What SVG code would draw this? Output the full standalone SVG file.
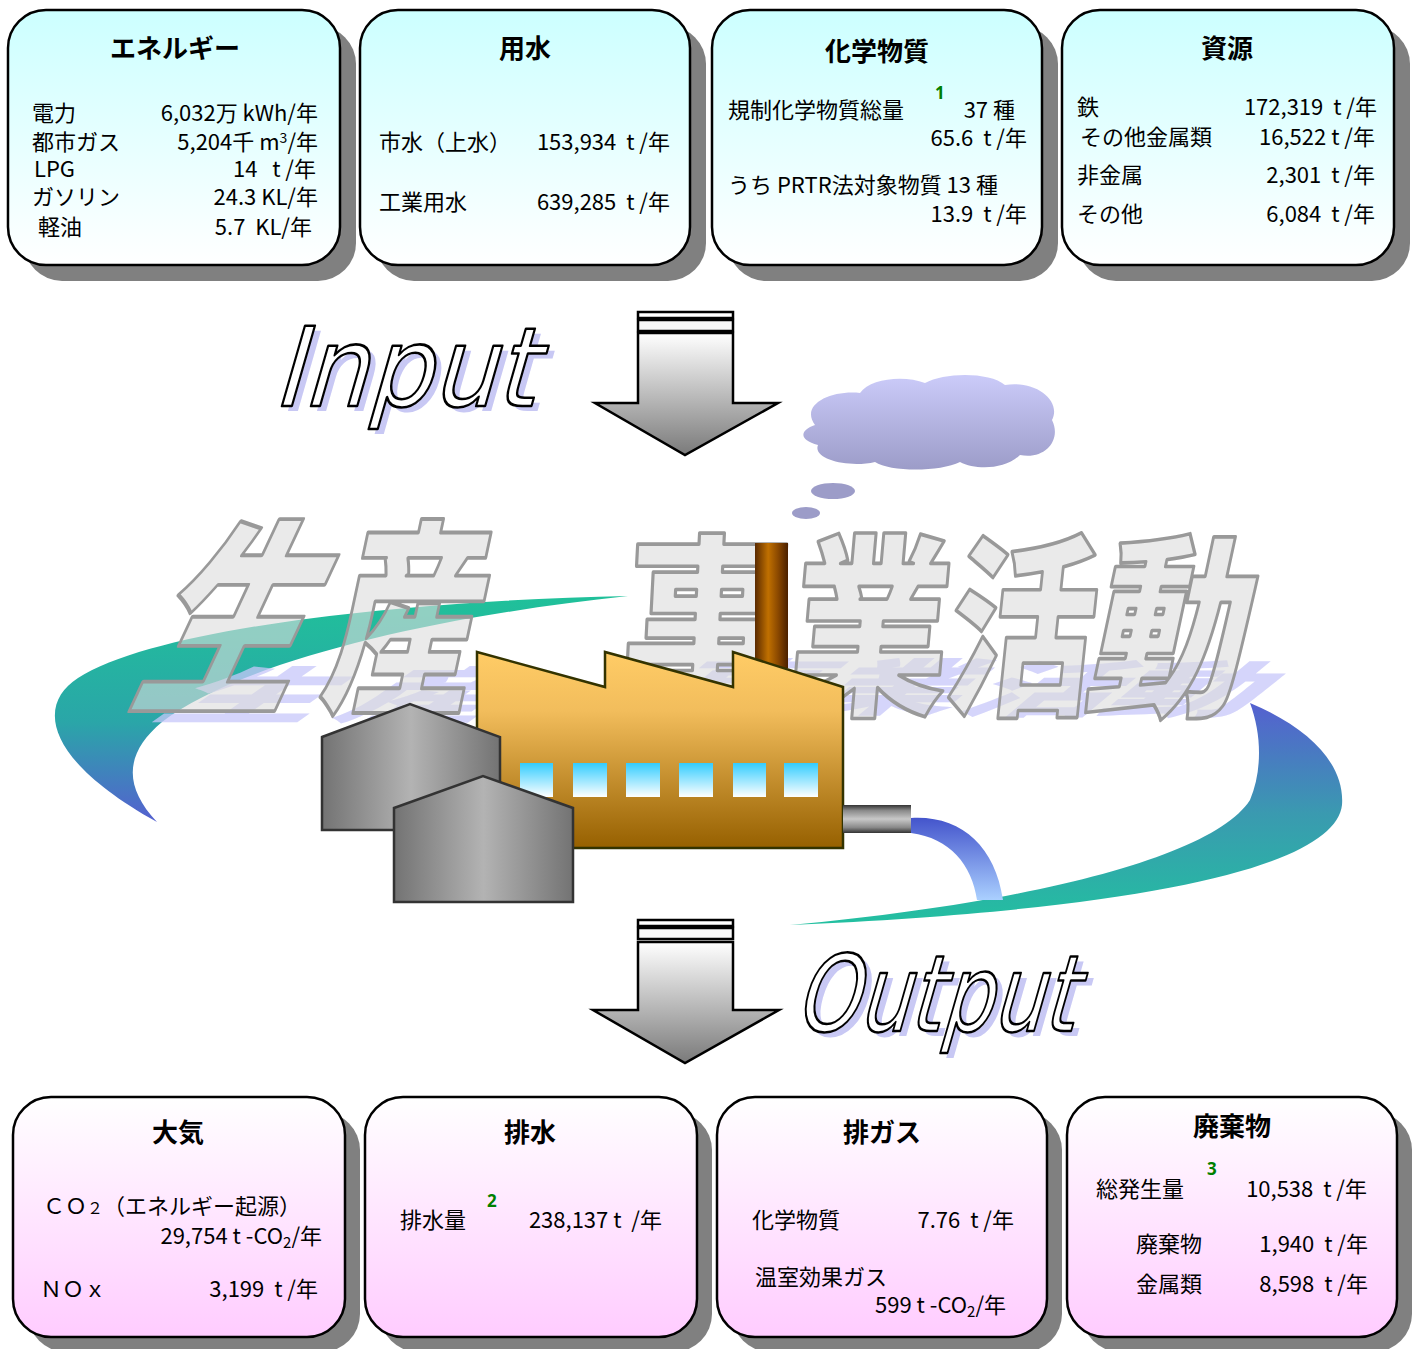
<svg xmlns="http://www.w3.org/2000/svg" width="1414" height="1349" viewBox="0 0 1414 1349">
  <defs>
    <linearGradient id="gIn" x1="0" y1="0" x2="0" y2="1">
      <stop offset="0" stop-color="#ccffff"/>
      <stop offset="1" stop-color="#ffffff"/>
    </linearGradient>
    <linearGradient id="gOut" x1="0" y1="0" x2="0" y2="1">
      <stop offset="0" stop-color="#ffffff"/>
      <stop offset="1" stop-color="#ffccff"/>
    </linearGradient>
    <linearGradient id="gArrowIn" gradientUnits="userSpaceOnUse" x1="0" y1="333" x2="0" y2="455">
      <stop offset="0" stop-color="#ffffff"/>
      <stop offset="1" stop-color="#7a7a7a"/>
    </linearGradient>
    <linearGradient id="gArrowOut" gradientUnits="userSpaceOnUse" x1="0" y1="942" x2="0" y2="1063">
      <stop offset="0" stop-color="#ffffff"/>
      <stop offset="1" stop-color="#7a7a7a"/>
    </linearGradient>
    <linearGradient id="gCloud" gradientUnits="userSpaceOnUse" x1="0" y1="378" x2="0" y2="470">
      <stop offset="0" stop-color="#cacaf8"/>
      <stop offset="1" stop-color="#9c9cc8"/>
    </linearGradient>
    <linearGradient id="gSwL" gradientUnits="userSpaceOnUse" x1="0" y1="600" x2="0" y2="822">
      <stop offset="0" stop-color="#20c09a"/>
      <stop offset="0.55" stop-color="#2aa6a8"/>
      <stop offset="1" stop-color="#5560d0"/>
    </linearGradient>
    <linearGradient id="gSwR" gradientUnits="userSpaceOnUse" x1="0" y1="703" x2="0" y2="925">
      <stop offset="0" stop-color="#5560d0"/>
      <stop offset="0.5" stop-color="#3a9ab0"/>
      <stop offset="1" stop-color="#22c0a0"/>
    </linearGradient>
    <linearGradient id="gStream" gradientUnits="userSpaceOnUse" x1="0" y1="818" x2="0" y2="900">
      <stop offset="0" stop-color="#4455cc"/>
      <stop offset="1" stop-color="#aad0ff"/>
    </linearGradient>
    <linearGradient id="gBldg" x1="0" y1="0" x2="1" y2="0">
      <stop offset="0" stop-color="#737373"/>
      <stop offset="0.5" stop-color="#b3b3b3"/>
      <stop offset="1" stop-color="#737373"/>
    </linearGradient>
    <linearGradient id="gFactory" gradientUnits="userSpaceOnUse" x1="0" y1="652" x2="0" y2="848">
      <stop offset="0" stop-color="#ffcc66"/>
      <stop offset="0.3" stop-color="#f2bd5c"/>
      <stop offset="1" stop-color="#966000"/>
    </linearGradient>
    <linearGradient id="gWin" x1="0" y1="0" x2="0" y2="1">
      <stop offset="0" stop-color="#33ccff"/>
      <stop offset="1" stop-color="#ffffff"/>
    </linearGradient>
    <linearGradient id="gChimney" x1="0" y1="0" x2="1" y2="0">
      <stop offset="0" stop-color="#5a2a00"/>
      <stop offset="0.4" stop-color="#c07000"/>
      <stop offset="0.7" stop-color="#8a4800"/>
      <stop offset="1" stop-color="#4a2000"/>
    </linearGradient>
    <linearGradient id="gPipe" x1="0" y1="0" x2="0" y2="1">
      <stop offset="0" stop-color="#333333"/>
      <stop offset="0.2" stop-color="#8a8a8a"/>
      <stop offset="0.5" stop-color="#c8c8c8"/>
      <stop offset="0.8" stop-color="#8a8a8a"/>
      <stop offset="1" stop-color="#333333"/>
    </linearGradient>
    <style>
      .shadow { fill: #808080; }
      .box { stroke: #000; stroke-width: 2.5; }
      .t { font-family: "Noto Sans CJK JP", "Noto Sans", sans-serif; font-size: 22px; fill: #000; white-space: pre; }
      .h { font-weight: bold; font-size: 26px; text-anchor: middle; }
      .r { text-anchor: end; }
      .sup { font-family: "Noto Sans", "DejaVu Sans", sans-serif; font-size: 17px; font-weight: bold; fill: #008000; }
      .arrow { stroke: #000; stroke-width: 2.5; stroke-linejoin: miter; }
      .big { font-family: "Noto Sans CJK JP", sans-serif; font-weight: 900; font-size: 160px; fill: #dcdcdc; fill-opacity: 0.6; stroke: #999999; stroke-width: 3; stroke-linejoin: round; }
      .bigsh { font-family: "Noto Sans CJK JP", sans-serif; font-weight: 900; font-size: 160px; fill: #c8c8fa; }
      .word { font-family: "DejaVu Sans", sans-serif; fill: #fff; stroke: #000; stroke-width: 2.5; stroke-linejoin: round; }
      .wordsh { font-family: "DejaVu Sans", sans-serif; fill: #c8c8f4; }
      .bld { fill: url(#gBldg); stroke: #333; stroke-width: 2.5; }
    </style>
  </defs>

  <!-- cloud and smoke puffs -->
  <g id="cloud" fill="url(#gCloud)">
    <path d="M815 425 C800 405 830 390 860 393 C870 378 905 375 925 383 C945 372 990 372 1005 385 C1035 380 1062 400 1052 420 C1062 440 1045 460 1020 455 C1005 470 975 470 960 462 C940 472 890 472 875 462 C850 468 812 460 818 445 C798 440 800 430 815 425 Z"/>
    <ellipse cx="833" cy="491" rx="22" ry="8"/>
    <ellipse cx="806" cy="513" rx="14" ry="6"/>
  </g>

  <!-- circulation swooshes -->
  <g id="swoosh">
    <path d="M628 596 C420 600 160 626 78 678 C36 705 45 760 157 822 C122 785 126 752 162 722 C240 662 430 617 628 596 Z" fill="url(#gSwL)"/>
    <path d="M1250 703 C1310 728 1345 765 1342 805 C1336 860 1180 908 790 925 C1040 902 1215 855 1250 800 C1262 772 1262 735 1250 703 Z" fill="url(#gSwR)"/>
  </g>

  <!-- lavender cast shadow of the headline -->
  <g id="headline-shadow" class="bigsh" opacity="0.75">
    <text transform="translate(150,718) skewX(-55) scale(1,0.38)">生</text>
    <text transform="translate(330,718) skewX(-55) scale(0.95,0.38)">産</text>
    <text transform="translate(640,710) skewX(-50) scale(1,0.38)">事</text>
    <text transform="translate(800,710) skewX(-50) scale(0.95,0.38)">業</text>
    <text transform="translate(955,712) skewX(-50) scale(0.9,0.38)">活</text>
    <text transform="translate(1095,712) skewX(-50) scale(0.95,0.38)">動</text>
  </g>

  <!-- headline 生産 事業活動 -->
  <g id="headline" class="big">
    <text transform="translate(128,697) skewX(-25) scale(1,1.3)">生</text>
    <text transform="translate(318,697) skewX(-12) scale(0.95,1.3)">産</text>
    <text transform="translate(620,700) skewX(-3) scale(1.05,1.22)">事</text>
    <text transform="translate(785,700) skewX(-5) scale(1,1.22)">業</text>
    <text transform="translate(942,700) skewX(-6) scale(0.92,1.22)">活</text>
    <text transform="translate(1082,700) skewX(-12) scale(0.98,1.22)">動</text>
  </g>

  <!-- factory -->
  <g id="factory">
    <rect x="755" y="543" width="33" height="125" fill="url(#gChimney)"/>
    <path d="M477 652 L605 687 L605 652 L733 687 L733 652 L843 687 L843 848 L477 848 Z" fill="url(#gFactory)" stroke="#333300" stroke-width="2.5"/>
    <g fill="url(#gWin)">
      <rect x="520" y="763" width="33" height="34"/>
      <rect x="573" y="763" width="34" height="34"/>
      <rect x="626" y="763" width="34" height="34"/>
      <rect x="679" y="763" width="34" height="34"/>
      <rect x="733" y="763" width="33" height="34"/>
      <rect x="784" y="763" width="34" height="34"/>
    </g>
    <rect x="843" y="805" width="68" height="28" fill="url(#gPipe)"/>
    <path d="M911 818 C960 815 995 845 1003 900 L977 900 C972 865 950 838 911 833 Z" fill="url(#gStream)"/>
    <path class="bld" d="M322 737 L410 704 L500 737 L500 830 L322 830 Z"/>
    <path class="bld" d="M394 808 L483 776 L573 808 L573 902 L394 902 Z"/>
  </g>

  <!-- Input / Output labels -->
  <g id="label-input">
    <text class="wordsh" font-size="110" textLength="262" lengthAdjust="spacingAndGlyphs" transform="translate(278,411) skewX(-16)">Input</text>
    <text class="word" font-size="110" textLength="262" lengthAdjust="spacingAndGlyphs" transform="translate(272,406) skewX(-16)">Input</text>
  </g>
  <g id="label-output">
    <text class="wordsh" font-size="106" textLength="280" lengthAdjust="spacingAndGlyphs" transform="translate(799,1036) skewX(-16)">Output</text>
    <text class="word" font-size="106" textLength="280" lengthAdjust="spacingAndGlyphs" transform="translate(793,1031) skewX(-16)">Output</text>
  </g>

  <!-- flow arrows -->
  <g id="connectors">
    <g id="arrow-in" class="arrow">
      <rect x="638" y="312" width="95" height="6" fill="#ffffff"/>
      <rect x="638" y="320" width="95" height="11" fill="#f8f8f8"/>
      <polygon points="638,333 733,333 733,403 778,403 685,455 595,403 638,403" fill="url(#gArrowIn)"/>
    </g>
    <g id="arrow-out" class="arrow">
      <rect x="638" y="920" width="95" height="6" fill="#ffffff"/>
      <rect x="638" y="928" width="95" height="11" fill="#f8f8f8"/>
      <polygon points="638,942 733,942 733,1010 779,1010 685,1063 593,1010 638,1010" fill="url(#gArrowOut)"/>
    </g>
  </g>

  <!-- input boxes -->
  <g id="box-energy">
    <rect class="shadow" x="24" y="26" width="332" height="255" rx="38"/>
    <rect class="box" x="8" y="10" width="332" height="255" rx="38" fill="url(#gIn)"/>
    <text class="t h" x="175" y="58">エネルギー</text>
    <text class="t" x="32" y="121">電力</text>
    <text class="t r" x="318" y="121">6,032万 kWh/年</text>
    <text class="t" x="32" y="150">都市ガス</text>
    <text class="t r" x="318" y="150">5,204千 m<tspan font-size="14" dy="-7">3</tspan><tspan dy="7">/年</tspan></text>
    <text class="t" x="34" y="177">LPG</text>
    <text class="t r" x="316" y="177">14   t /年</text>
    <text class="t" x="32" y="205">ガソリン</text>
    <text class="t r" x="318" y="205">24.3 KL/年</text>
    <text class="t" x="38" y="235">軽油</text>
    <text class="t r" x="312" y="235">5.7  KL/年</text>
  </g>

  <g id="box-water">
    <rect class="shadow" x="376" y="26" width="330" height="255" rx="38"/>
    <rect class="box" x="360" y="10" width="330" height="255" rx="38" fill="url(#gIn)"/>
    <text class="t h" x="525" y="58">用水</text>
    <text class="t" x="379" y="150">市水（上水）</text>
    <text class="t r" x="670" y="150">153,934  t /年</text>
    <text class="t" x="379" y="210">工業用水</text>
    <text class="t r" x="670" y="210">639,285  t /年</text>
  </g>

  <g id="box-chemicals">
    <rect class="shadow" x="728" y="26" width="330" height="255" rx="38"/>
    <rect class="box" x="712" y="10" width="330" height="255" rx="38" fill="url(#gIn)"/>
    <text class="t h" x="877" y="61">化学物質</text>
    <text class="t" x="728" y="118">規制化学物質総量</text>
    <text class="sup" x="935" y="99">1</text>
    <text class="t r" x="1015" y="118">37 種</text>
    <text class="t r" x="1027" y="146">65.6  t /年</text>
    <text class="t" x="728" y="193">うち PRTR法対象物質 13 種</text>
    <text class="t r" x="1027" y="222">13.9  t /年</text>
  </g>

  <g id="box-resources">
    <rect class="shadow" x="1078" y="26" width="332" height="255" rx="38"/>
    <rect class="box" x="1062" y="10" width="332" height="255" rx="38" fill="url(#gIn)"/>
    <text class="t h" x="1227" y="58">資源</text>
    <text class="t" x="1077" y="115">鉄</text>
    <text class="t r" x="1377" y="115">172,319  t /年</text>
    <text class="t" x="1080" y="145">その他金属類</text>
    <text class="t r" x="1375" y="145">16,522 t /年</text>
    <text class="t" x="1077" y="183">非金属</text>
    <text class="t r" x="1375" y="183">2,301  t /年</text>
    <text class="t" x="1077" y="222">その他</text>
    <text class="t r" x="1375" y="222">6,084  t /年</text>
  </g>

  <!-- output boxes -->
  <g id="box-air">
    <rect class="shadow" x="28" y="1112" width="332" height="240" rx="38"/>
    <rect class="box" x="13" y="1097" width="332" height="240" rx="38" fill="url(#gOut)"/>
    <text class="t h" x="178" y="1142">大気</text>
    <text class="t" x="43" y="1214">ＣＯ<tspan font-size="16">２</tspan>（エネルギー起源）</text>
    <text class="t r" x="322" y="1244">29,754 t -CO<tspan font-size="15" dy="4">2</tspan><tspan dy="-4">/年</tspan></text>
    <text class="t" x="40" y="1297">ＮＯｘ</text>
    <text class="t r" x="318" y="1297">3,199  t /年</text>
  </g>

  <g id="box-wastewater">
    <rect class="shadow" x="380" y="1112" width="332" height="240" rx="38"/>
    <rect class="box" x="365" y="1097" width="332" height="240" rx="38" fill="url(#gOut)"/>
    <text class="t h" x="530" y="1142">排水</text>
    <text class="t" x="400" y="1228">排水量</text>
    <text class="sup" x="487" y="1207">2</text>
    <text class="t r" x="662" y="1228">238,137 t  /年</text>
  </g>

  <g id="box-exhaust">
    <rect class="shadow" x="732" y="1112" width="330" height="240" rx="38"/>
    <rect class="box" x="717" y="1097" width="330" height="240" rx="38" fill="url(#gOut)"/>
    <text class="t h" x="882" y="1142">排ガス</text>
    <text class="t" x="752" y="1228">化学物質</text>
    <text class="t r" x="1014" y="1228">7.76  t /年</text>
    <text class="t" x="755" y="1285">温室効果ガス</text>
    <text class="t r" x="1006" y="1313">599 t -CO<tspan font-size="15" dy="4">2</tspan><tspan dy="-4">/年</tspan></text>
  </g>

  <g id="box-waste">
    <rect class="shadow" x="1082" y="1112" width="330" height="240" rx="38"/>
    <rect class="box" x="1067" y="1097" width="330" height="240" rx="38" fill="url(#gOut)"/>
    <text class="t h" x="1232" y="1136">廃棄物</text>
    <text class="t" x="1096" y="1197">総発生量</text>
    <text class="sup" x="1207" y="1175">3</text>
    <text class="t r" x="1367" y="1197">10,538  t /年</text>
    <text class="t" x="1136" y="1252">廃棄物</text>
    <text class="t r" x="1368" y="1252">1,940  t /年</text>
    <text class="t" x="1136" y="1292">金属類</text>
    <text class="t r" x="1368" y="1292">8,598  t /年</text>
  </g>
</svg>
